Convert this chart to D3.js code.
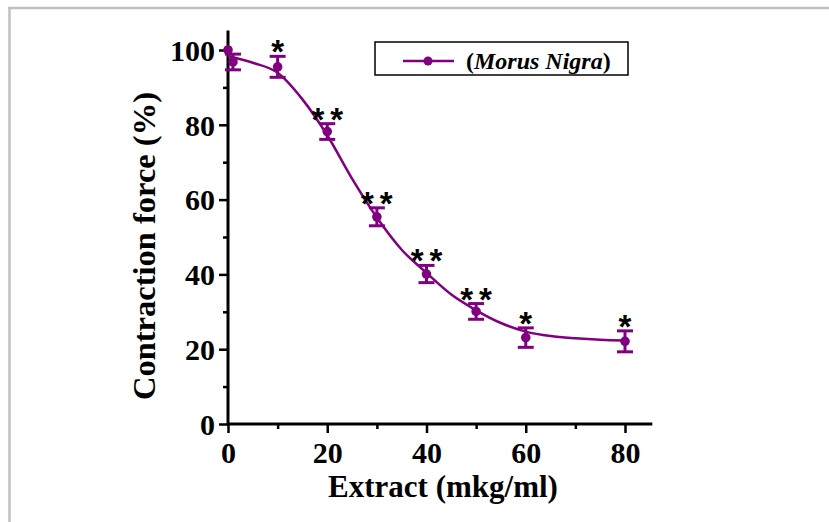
<!DOCTYPE html>
<html><head><meta charset="utf-8">
<script src="https://cdn.jsdelivr.net/npm/d3@7"></script>
<style>html,body{margin:0;padding:0;background:#fff;}svg{display:block;}</style>
</head><body>
<script>
// ---- data ----
const doses = [0, 1, 10, 20, 30, 40, 50, 60, 80];
const meanForce = [100, 96.8, 95.5, 78.2, 55.4, 40.1, 30.1, 23.1, 22.1];
const errForce = [0, 2.1, 2.8, 2.1, 2.4, 2.3, 2.1, 2.6, 2.8];
const stars = ["", "", "*", "**", "**", "**", "**", "*", "*"];
const fitX = [0, 5, 10, 15, 20, 25, 30, 35, 40, 45, 50, 55, 60, 65, 70, 75, 80];
const fitY = [98.4, 96.6, 93.9, 86.8, 77.2, 65.6, 55.2, 46.6, 40.4, 34.6, 30.4, 27.0, 24.7, 23.5, 22.9, 22.5, 22.3];
const xTicks = [0, 20, 40, 60, 80];
const xMinor = [10, 30, 50, 70];
const yTicks = [0, 20, 40, 60, 80, 100];
const yMinor = [10, 30, 50, 70, 90];
const seriesName = "Morus Nigra";

const W = 829, H = 522;
const purple = "#800080";
const serif = "'Liberation Serif','Times New Roman',serif";

const svg = d3.select("body").append("svg").attr("width", W).attr("height", H);
svg.append("rect").attr("width", W).attr("height", H).attr("fill", "#fff");
// frame
svg.append("line").attr("x1", 8).attr("x2", W).attr("y1", 8).attr("y2", 8).attr("stroke", "#c0c0c0").attr("stroke-width", 2.5);
svg.append("line").attr("x1", 9.5).attr("x2", 9.5).attr("y1", 7).attr("y2", H).attr("stroke", "#c0c0c0").attr("stroke-width", 2.5);

const x = d3.scaleLinear().domain([0, 80]).range([228, 625]);
const y = d3.scaleLinear().domain([0, 100]).range([424, 50]);

const g = svg.append("g");
// axes lines
g.append("line").attr("x1", x(0)).attr("x2", x(85.5)).attr("y1", y(0)).attr("y2", y(0)).attr("stroke", "#000").attr("stroke-width", 3);
g.append("line").attr("x1", x(0)).attr("x2", x(0)).attr("y1", y(0) + 1.5).attr("y2", y(105.2)).attr("stroke", "#000").attr("stroke-width", 3);

const xAxis = d3.axisBottom(x).tickValues(xTicks).tickSize(9).tickPadding(9).tickFormat(d3.format("d"));
const gx = g.append("g").attr("transform", `translate(0,${y(0)})`).call(xAxis);
gx.select(".domain").remove();
gx.selectAll(".tick line").attr("stroke", "#000").attr("stroke-width", 2.5);
gx.selectAll(".tick text").attr("font-family", serif).attr("font-weight", "bold").attr("font-size", 30).attr("fill", "#000").attr("dy", "0.71em");
const gxm = g.append("g").attr("transform", `translate(0,${y(0)})`).call(d3.axisBottom(x).tickValues(xMinor).tickSize(5).tickFormat(""));
gxm.select(".domain").remove();
gxm.selectAll(".tick line").attr("stroke", "#000").attr("stroke-width", 2.5);

const yAxis = d3.axisLeft(y).tickValues(yTicks).tickSize(9).tickPadding(4).tickFormat(d3.format("d"));
const gy = g.append("g").attr("transform", `translate(${x(0)},0)`).call(yAxis);
gy.select(".domain").remove();
gy.selectAll(".tick line").attr("stroke", "#000").attr("stroke-width", 2.5);
gy.selectAll(".tick text").attr("font-family", serif).attr("font-weight", "bold").attr("font-size", 30).attr("fill", "#000").attr("dy", "0.34em");
const gym = g.append("g").attr("transform", `translate(${x(0)},0)`).call(d3.axisLeft(y).tickValues(yMinor).tickSize(5).tickFormat(""));
gym.select(".domain").remove();
gym.selectAll(".tick line").attr("stroke", "#000").attr("stroke-width", 2.5);

// axis titles
svg.append("text").attr("x", 443).attr("y", 497).attr("text-anchor", "middle")
  .attr("font-family", serif).attr("font-weight", "bold").attr("font-size", 31).text("Extract (mkg/ml)");
svg.append("text").attr("transform", "translate(155,246) rotate(-90)").attr("text-anchor", "middle")
  .attr("font-family", serif).attr("font-weight", "bold").attr("font-size", 32.5).text("Contraction force (%)");

// fit curve
const line = d3.line().x((d, i) => x(fitX[i])).y((d, i) => y(fitY[i])).curve(d3.curveMonotoneX);
svg.append("path").datum(fitY).attr("d", line).attr("fill", "none").attr("stroke", purple).attr("stroke-width", 2.5);

// error bars
const pts = doses.map((d, i) => ({x: d, m: meanForce[i], e: errForce[i], s: stars[i]}));
const eb = svg.append("g").attr("stroke", purple).attr("stroke-width", 3);
pts.filter(p => p.e > 0).forEach(p => {
  eb.append("line").attr("x1", x(p.x)).attr("x2", x(p.x)).attr("y1", y(p.m - p.e)).attr("y2", y(p.m + p.e));
  eb.append("line").attr("x1", x(p.x) - 8).attr("x2", x(p.x) + 8).attr("y1", y(p.m - p.e)).attr("y2", y(p.m - p.e));
  eb.append("line").attr("x1", x(p.x) - 8).attr("x2", x(p.x) + 8).attr("y1", y(p.m + p.e)).attr("y2", y(p.m + p.e));
});
svg.append("g").selectAll("circle").data(pts).join("circle")
  .attr("cx", p => x(p.x)).attr("cy", p => y(p.m)).attr("r", 4.8).attr("fill", purple);

// significance stars
svg.append("g").selectAll("text").data(pts.filter(p => p.s)).join("text")
  .attr("x", p => x(p.x) + 3).attr("y", p => y(p.m + p.e) + 7).attr("text-anchor", "middle")
  .attr("font-family", "'Liberation Sans',Arial,sans-serif").attr("font-weight", "bold").attr("font-size", 33).attr("letter-spacing", 6)
  .attr("fill", "#000").text(p => p.s);

// legend
const lg = svg.append("g");
lg.append("rect").attr("x", 375).attr("y", 42).attr("width", 253).attr("height", 33).attr("fill", "#fff").attr("stroke", "#000").attr("stroke-width", 1.5);
lg.append("line").attr("x1", 403).attr("x2", 454).attr("y1", 61).attr("y2", 61).attr("stroke", purple).attr("stroke-width", 2.5);
lg.append("circle").attr("cx", 428).attr("cy", 61).attr("r", 4.5).attr("fill", purple);
const lt = lg.append("text").attr("x", 466).attr("y", 69).attr("font-family", serif).attr("font-weight", "bold").attr("font-size", 24);
lt.append("tspan").text("(");
lt.append("tspan").attr("font-style", "italic").text(seriesName);
lt.append("tspan").text(")");
</script>
</body></html>
